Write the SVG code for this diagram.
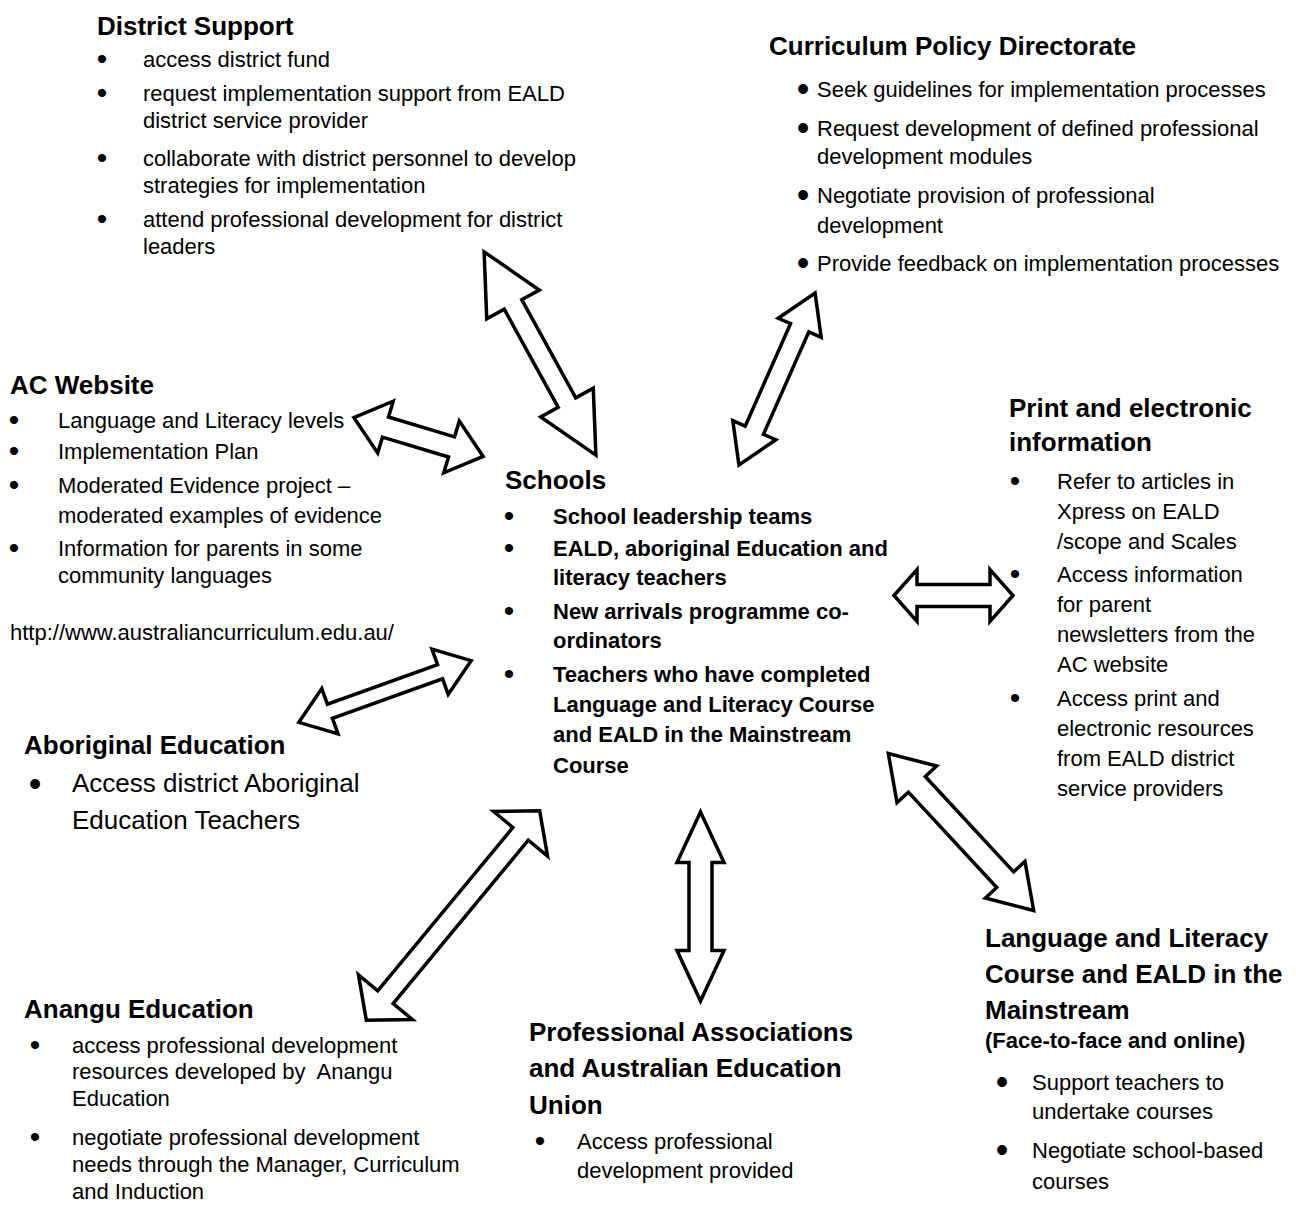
<svg xmlns="http://www.w3.org/2000/svg" width="1296" height="1210" viewBox="0 0 1296 1210">
<style>
text{font-family:"Liberation Sans",Arial,sans-serif;fill:#000}
.h{font-size:26px;font-weight:bold}
.t{font-size:22px}
.b{font-size:22px;font-weight:bold}
.l{font-size:26px}
.u{font-size:30px;text-anchor:middle}
.U{font-size:36px;text-anchor:middle}
.arr polygon{fill:#fff;stroke:#000;stroke-width:3.5;stroke-linejoin:miter;stroke-miterlimit:10}
</style>
<rect width="1296" height="1210" fill="#fff"/>
<g id="connectors" class="arr">
<polygon transform="translate(540,353.5) rotate(61.2)" points="-116,0 -56,-30 -56,-10 56,-10 56,-30 116,0 56,30 56,10 -56,10 -56,30"/>
<polygon transform="translate(777,379) rotate(113.9)" points="-94,0 -56,-23.5 -56,-10 56,-10 56,-23.5 94,0 56,23.5 56,10 -56,10 -56,23.5"/>
<polygon transform="translate(418.5,437) rotate(16.7)" points="-67.5,0 -34.5,-27 -34.5,-10.5 34.5,-10.5 34.5,-27 67.5,0 34.5,27 34.5,10.5 -34.5,10.5 -34.5,27"/>
<polygon transform="translate(953.5,595.5)" points="-59.5,0 -36.5,-26 -36.5,-11 36.5,-11 36.5,-26 59.5,0 36.5,26 36.5,11 -36.5,11 -36.5,26"/>
<polygon transform="translate(385,691.5) rotate(-19.7)" points="-91.5,0 -58.5,-24 -58.5,-7.5 58.5,-7.5 58.5,-24 91.5,0 58.5,24 58.5,7.5 -58.5,7.5 -58.5,24"/>
<polygon transform="translate(961,832) rotate(47.2)" points="-107,0 -65,-27 -65,-11.5 65,-11.5 65,-27 107,0 65,27 65,11.5 -65,11.5 -65,27"/>
<polygon transform="translate(453,915.5) rotate(-50.4)" points="-136,0 -106,-35 -106,-10 106,-10 106,-35 136,0 106,35 106,10 -106,10 -106,35"/>
<polygon transform="translate(700.5,906.5) rotate(90)" points="-94.5,0 -44,-23.5 -44,-11.5 44,-11.5 44,-23.5 94.5,0 44,23.5 44,11.5 -44,11.5 -44,23.5"/>
</g>
<g id="district-support">
<text class="h" x="97" y="35">District Support</text>
<text class="u" x="102" y="69">•</text><text class="t" x="143" y="67">access district fund</text>
<text class="u" x="102" y="103">•</text><text class="t" x="143" y="101">request implementation support from EALD</text>
<text class="t" x="143" y="128">district service provider</text>
<text class="u" x="102" y="168">•</text><text class="t" x="143" y="166">collaborate with district personnel to develop</text>
<text class="t" x="143" y="193">strategies for implementation</text>
<text class="u" x="102" y="229">•</text><text class="t" x="143" y="227">attend professional development for district</text>
<text class="t" x="143" y="254">leaders</text>
</g>
<g id="curriculum-policy">
<text class="h" x="769" y="55">Curriculum Policy Directorate</text>
<text class="U" x="803" y="101">•</text><text class="t" x="817" y="97">Seek guidelines for implementation processes</text>
<text class="U" x="803" y="140">•</text><text class="t" x="817" y="136">Request development of defined professional</text>
<text class="t" x="817" y="164">development modules</text>
<text class="U" x="803" y="207">•</text><text class="t" x="817" y="203">Negotiate provision of professional</text>
<text class="t" x="817" y="233">development</text>
<text class="U" x="803" y="275">•</text><text class="t" x="817" y="271">Provide feedback on implementation processes</text>
</g>
<g id="ac-website">
<text class="h" x="10" y="394">AC Website</text>
<text class="u" x="14" y="430">•</text><text class="t" x="58" y="428">Language and Literacy levels</text>
<text class="u" x="14" y="461">•</text><text class="t" x="58" y="459">Implementation Plan</text>
<text class="u" x="14" y="495">•</text><text class="t" x="58" y="493">Moderated Evidence project –</text>
<text class="t" x="58" y="523">moderated examples of evidence</text>
<text class="u" x="14" y="558">•</text><text class="t" x="58" y="556">Information for parents in some</text>
<text class="t" x="58" y="583">community languages</text>
<text class="t" x="10" y="640">http://www.australiancurriculum.edu.au/</text>
</g>
<g id="print-electronic">
<text class="h" x="1009" y="417">Print and electronic</text>
<text class="h" x="1009" y="451">information</text>
<text class="u" x="1015" y="491">•</text><text class="t" x="1057" y="489">Refer to articles in</text>
<text class="t" x="1057" y="519">Xpress on EALD</text>
<text class="t" x="1057" y="549">/scope and Scales</text>
<text class="u" x="1015" y="584">•</text><text class="t" x="1057" y="582">Access information</text>
<text class="t" x="1057" y="612">for parent</text>
<text class="t" x="1057" y="642">newsletters from the</text>
<text class="t" x="1057" y="672">AC website</text>
<text class="u" x="1015" y="708">•</text><text class="t" x="1057" y="706">Access print and</text>
<text class="t" x="1057" y="736">electronic resources</text>
<text class="t" x="1057" y="766">from EALD district</text>
<text class="t" x="1057" y="796">service providers</text>
</g>
<g id="schools">
<text class="h" x="505" y="489">Schools</text>
<text class="u" x="509" y="526">•</text><text class="b" x="553" y="524">School leadership teams</text>
<text class="u" x="509" y="558">•</text><text class="b" x="553" y="556">EALD, aboriginal Education and</text>
<text class="b" x="553" y="585">literacy teachers</text>
<text class="u" x="509" y="621">•</text><text class="b" x="553" y="619">New arrivals programme co-</text>
<text class="b" x="553" y="648">ordinators</text>
<text class="u" x="509" y="684">•</text><text class="b" x="553" y="682">Teachers who have completed</text>
<text class="b" x="553" y="712">Language and Literacy Course</text>
<text class="b" x="553" y="742">and EALD in the Mainstream</text>
<text class="b" x="553" y="773">Course</text>
</g>
<g id="aboriginal-education">
<text class="h" x="24" y="754">Aboriginal Education</text>
<text class="U" x="35" y="796">•</text><text class="l" x="72" y="792">Access district Aboriginal</text>
<text class="l" x="72" y="829">Education Teachers</text>
</g>
<g id="anangu-education">
<text class="h" x="24" y="1018">Anangu Education</text>
<text class="u" x="35" y="1055">•</text><text class="t" x="72" y="1053">access professional development</text>
<text class="t" x="72" y="1079" xml:space="preserve">resources developed by  Anangu</text>
<text class="t" x="72" y="1106">Education</text>
<text class="u" x="35" y="1147">•</text><text class="t" x="72" y="1145">negotiate professional development</text>
<text class="t" x="72" y="1172">needs through the Manager, Curriculum</text>
<text class="t" x="72" y="1199">and Induction</text>
</g>
<g id="professional-associations">
<text class="h" x="529" y="1041">Professional Associations</text>
<text class="h" x="529" y="1077">and Australian Education</text>
<text class="h" x="529" y="1114">Union</text>
<text class="u" x="540" y="1151">•</text><text class="t" x="577" y="1149">Access professional</text>
<text class="t" x="577" y="1178">development provided</text>
</g>
<g id="language-literacy">
<text class="h" x="985" y="947">Language and Literacy</text>
<text class="h" x="985" y="983">Course and EALD in the</text>
<text class="h" x="985" y="1019">Mainstream</text>
<text class="b" x="985" y="1048">(Face-to-face and online)</text>
<text class="U" x="1002" y="1094">•</text><text class="t" x="1032" y="1090">Support teachers to</text>
<text class="t" x="1032" y="1119">undertake courses</text>
<text class="U" x="1002" y="1162">•</text><text class="t" x="1032" y="1158">Negotiate school-based</text>
<text class="t" x="1032" y="1189">courses</text>
</g>
</svg>
